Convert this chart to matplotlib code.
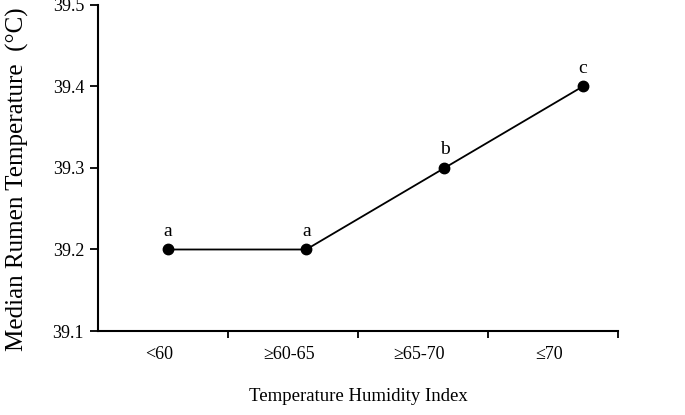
import numpy as np
import matplotlib.pyplot as plt
from matplotlib.ticker import FixedLocator, NullFormatter

categories = ["<60", "\u226560-65", "\u226565-70", "\u226470"]
rumen_temp = [39.2, 39.2, 39.3, 39.4]
letters = ["a", "a", "b", "c"]

plt.rcParams['font.family'] = ['Liberation Serif', 'DejaVu Serif']

fig = plt.figure(figsize=(6.85, 4.15), dpi=100)
ax = fig.add_axes([0.143, 0.2024, 0.759, 0.7856])

x = np.arange(len(categories))
ax.plot(x, rumen_temp, color='black', lw=1.3, marker='o', ms=7.5, zorder=3)
for xi, yi, lt in zip(x, rumen_temp, letters):
    ax.annotate(lt, (xi, yi), xytext=(0, 7), textcoords='offset points',
                ha='center', va='bottom', fontsize=14)

# category slots are slightly narrower than the point spacing in the original
slot = 0.94
left = -0.506
edges = left + slot * np.arange(len(categories) + 1)
centers = edges[:-1] + slot / 2 - 0.03

ax.set_xlim(left, edges[-1])
ax.set_ylim(39.1, 39.5)
ax.set_yticks([39.1, 39.2, 39.3, 39.4, 39.5])
ax.set_yticklabels(["39.1", "39.2", "39.3", "39.4", "39.5"])

ax.xaxis.set_major_locator(FixedLocator(edges[1:]))
ax.xaxis.set_major_formatter(NullFormatter())
ax.xaxis.set_minor_locator(FixedLocator(centers))
ax.set_xticklabels(categories, minor=True)
ax.tick_params(axis='x', which='minor', length=0, pad=11, labelsize=13)
ax.tick_params(axis='x', which='major', length=5, width=1.3, direction='out')
ax.tick_params(axis='y', length=6, width=1.3, direction='out', labelsize=13, pad=4)

for s in ['top', 'right']:
    ax.spines[s].set_visible(False)
for s in ['left', 'bottom']:
    ax.spines[s].set_linewidth(1.5)

ax.set_xlabel("Temperature Humidity Index", fontsize=13.5, labelpad=18)
ax.set_ylabel("Median Rumen Temperature  (\u00b0C)", fontsize=18)
ax.yaxis.set_label_coords(-0.133, 0.465)

fig.savefig("out.png", dpi=100)
